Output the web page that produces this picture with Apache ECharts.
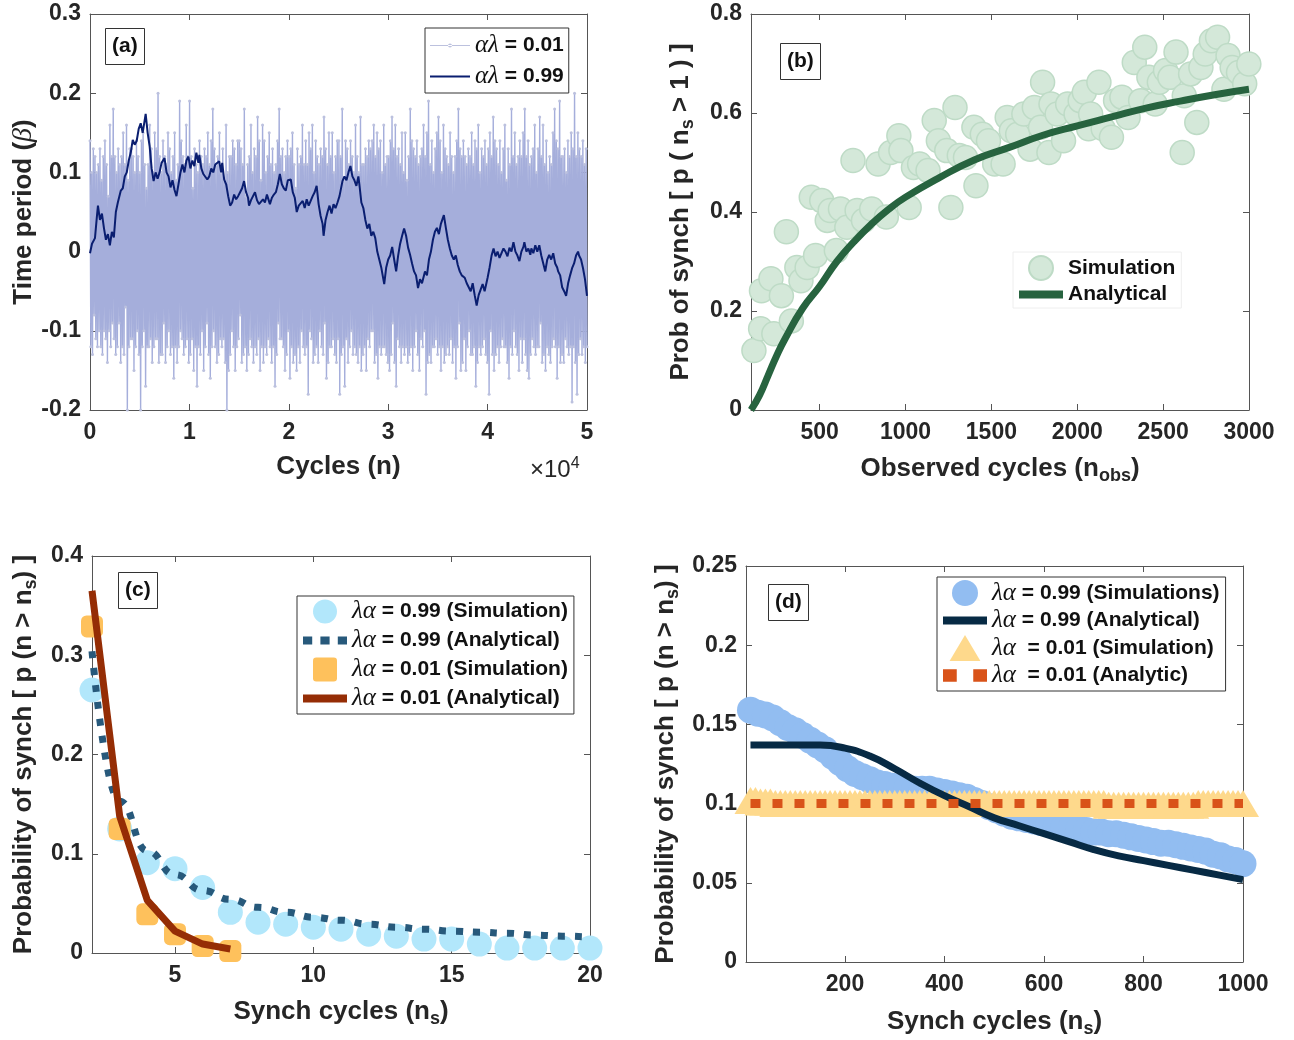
<!DOCTYPE html>
<html><head><meta charset="utf-8">
<script src="https://cdn.jsdelivr.net/npm/echarts@6/dist/echarts.min.js"></script>
<style>html,body{margin:0;padding:0;background:#fff}#c{width:1294px;height:1040px}</style>
</head><body><div id="c"></div>
<script>
// ---------- Panel (a): time period vs cycles (x in units of 1e4) ----------
const aNoiseY = [
0.14,-0.12,0.10,-0.13,0.13,-0.08,0.12,-0.11,0.10,-0.12,
0.11,-0.10,0.13,-0.12,0.09,-0.13,0.12,-0.10,0.14,-0.11,
0.11,-0.14,0.07,-0.10,0.16,-0.12,0.12,-0.09,0.18,-0.11,
0.12,-0.13,0.10,-0.12,0.13,-0.09,0.11,-0.14,0.12,-0.12,
0.15,-0.13,0.11,-0.07,0.16,-0.20,0.09,-0.12,0.13,-0.11,
0.13,-0.11,0.12,-0.15,0.10,-0.12,0.14,-0.10,0.12,-0.13,
0.10,-0.20,0.14,-0.12,0.15,-0.10,0.11,-0.17,0.08,-0.12,
0.11,-0.12,0.16,-0.11,0.13,-0.14,0.10,-0.12,0.15,-0.11,
0.13,-0.11,0.20,-0.14,0.12,-0.13,0.10,-0.13,0.14,-0.09,
0.12,-0.14,0.11,-0.12,0.15,-0.10,0.13,-0.13,0.10,-0.12,
0.12,-0.16,0.15,-0.12,0.09,-0.14,0.11,-0.12,0.19,-0.10,
0.14,-0.11,0.12,-0.13,0.11,-0.12,0.16,-0.11,0.12,-0.14,
0.19,-0.13,0.12,-0.11,0.08,-0.15,0.13,-0.12,0.11,-0.17,
0.10,-0.12,0.14,-0.13,0.12,-0.10,0.11,-0.15,0.13,-0.12,
0.12,-0.09,0.15,-0.13,0.11,-0.16,0.14,-0.12,0.18,-0.10,
0.13,-0.12,0.11,-0.14,0.12,-0.13,0.15,-0.11,0.10,-0.12,
0.13,-0.11,0.09,-0.14,0.16,-0.20,0.10,-0.15,0.12,-0.13,
0.12,-0.10,0.14,-0.12,0.13,-0.15,0.11,-0.12,0.14,-0.11,
0.14,-0.08,0.13,-0.14,0.11,-0.13,0.18,-0.12,0.07,-0.15,
0.11,-0.13,0.12,-0.11,0.16,-0.12,0.10,-0.14,0.13,-0.12,
0.12,-0.13,0.17,-0.11,0.14,-0.15,0.09,-0.12,0.16,-0.14,
0.14,-0.12,0.10,-0.13,0.12,-0.11,0.15,-0.12,0.11,-0.14,
0.13,-0.12,0.10,-0.17,0.11,-0.13,0.14,-0.09,0.18,-0.11,
0.12,-0.11,0.13,-0.12,0.10,-0.15,0.12,-0.13,0.14,-0.10,
0.12,-0.16,0.13,-0.12,0.15,-0.14,0.11,-0.13,0.08,-0.15,
0.13,-0.12,0.11,-0.14,0.12,-0.10,0.16,-0.12,0.11,-0.13,
0.14,-0.12,0.11,-0.18,0.15,-0.10,0.13,-0.11,0.16,-0.14,
0.10,-0.13,0.14,-0.12,0.12,-0.14,0.11,-0.10,0.13,-0.12,
0.12,-0.13,0.17,-0.09,0.13,-0.16,0.11,-0.14,0.15,-0.12,
0.12,-0.12,0.15,-0.11,0.10,-0.13,0.12,-0.14,0.14,-0.11,
0.14,-0.18,0.12,-0.13,0.18,-0.12,0.09,-0.17,0.14,-0.11,
0.13,-0.14,0.11,-0.12,0.14,-0.10,0.12,-0.13,0.10,-0.12,
0.16,-0.13,0.12,-0.14,0.10,-0.12,0.17,-0.15,0.11,-0.13,
0.11,-0.12,0.13,-0.15,0.12,-0.11,0.14,-0.12,0.13,-0.10,
0.14,-0.10,0.16,-0.14,0.12,-0.13,0.15,-0.16,0.13,-0.12,
0.14,-0.13,0.10,-0.12,0.16,-0.12,0.11,-0.13,0.12,-0.14,
0.12,-0.15,0.14,-0.13,0.17,-0.09,0.13,-0.14,0.16,-0.17,
0.12,-0.11,0.13,-0.12,0.11,-0.14,0.15,-0.12,0.10,-0.13,
0.15,-0.12,0.09,-0.14,0.12,-0.13,0.18,-0.12,0.14,-0.15,
0.13,-0.12,0.12,-0.10,0.14,-0.13,0.11,-0.15,0.12,-0.11,
0.13,-0.12,0.16,-0.10,0.12,-0.18,0.15,-0.14,0.19,-0.13,
0.11,-0.14,0.14,-0.12,0.10,-0.12,0.13,-0.11,0.15,-0.13,
0.17,-0.12,0.14,-0.15,0.10,-0.12,0.16,-0.14,0.13,-0.13,
0.12,-0.12,0.11,-0.13,0.15,-0.11,0.12,-0.14,0.10,-0.12,
0.12,-0.16,0.14,-0.12,0.18,-0.09,0.13,-0.15,0.12,-0.14,
0.14,-0.11,0.12,-0.15,0.11,-0.12,0.13,-0.10,0.12,-0.13,
0.15,-0.13,0.11,-0.12,0.14,-0.17,0.13,-0.14,0.16,-0.12,
0.10,-0.13,0.13,-0.12,0.12,-0.11,0.14,-0.13,0.11,-0.14,
0.13,-0.18,0.15,-0.10,0.12,-0.13,0.17,-0.15,0.14,-0.13,
0.13,-0.12,0.11,-0.14,0.14,-0.12,0.10,-0.11,0.13,-0.12,
0.16,-0.12,0.09,-0.14,0.13,-0.16,0.11,-0.12,0.18,-0.13,
0.12,-0.10,0.15,-0.12,0.11,-0.13,0.12,-0.15,0.14,-0.11,
0.12,-0.14,0.15,-0.11,0.18,-0.13,0.12,-0.15,0.14,-0.16,
0.11,-0.13,0.12,-0.11,0.13,-0.12,0.16,-0.13,0.10,-0.12,
0.13,-0.12,0.17,-0.09,0.12,-0.14,0.16,-0.13,0.11,-0.15,
0.14,-0.12,0.10,-0.13,0.12,-0.14,0.11,-0.12,0.15,-0.11,
0.18,-0.12,0.14,-0.16,0.13,-0.12,0.19,-0.14,0.12,-0.13,
0.12,-0.14,0.13,-0.11,0.10,-0.12,0.14,-0.13,0.12,-0.12,
0.15,-0.19,0.13,-0.12,0.20,-0.14,0.12,-0.18,0.15,-0.13,
0.13,-0.11,0.12,-0.13,0.14,-0.12,0.11,-0.14,0.13,-0.12
];
const aWalk = [
[0,-0.002],[0.02,0.01],[0.05,0.017],[0.07,0.045],[0.08,0.058],[0.1,0.04],[0.12,0.048],[0.14,0.03],[0.16,0.015],[0.18,0.022],
[0.2,0.008],[0.22,0.025],[0.24,0.018],[0.26,0.05],[0.28,0.062],[0.31,0.077],[0.33,0.08],[0.35,0.095],[0.37,0.1],[0.39,0.115],
[0.41,0.125],[0.43,0.141],[0.45,0.135],[0.47,0.14],[0.49,0.155],[0.51,0.162],[0.53,0.15],[0.56,0.174],[0.58,0.15],[0.6,0.133],
[0.62,0.105],[0.64,0.089],[0.66,0.1],[0.68,0.092],[0.7,0.1],[0.72,0.112],[0.75,0.118],[0.77,0.1],[0.79,0.095],[0.81,0.081],
[0.83,0.09],[0.85,0.078],[0.87,0.07],[0.89,0.085],[0.91,0.1],[0.93,0.11],[0.95,0.1],[0.97,0.115],[0.99,0.12],[1.01,0.105],
[1.03,0.115],[1.05,0.108],[1.07,0.125],[1.09,0.112],[1.1,0.122],[1.12,0.105],[1.14,0.098],[1.16,0.1],[1.18,0.091],[1.2,0.095],
[1.22,0.105],[1.24,0.1],[1.26,0.11],[1.28,0.108],[1.3,0.114],[1.32,0.1],[1.33,0.112],[1.35,0.091],[1.37,0.085],[1.39,0.07],
[1.41,0.058],[1.43,0.062],[1.45,0.072],[1.47,0.066],[1.49,0.07],[1.51,0.075],[1.53,0.08],[1.55,0.089],[1.57,0.075],[1.59,0.068],
[1.6,0.058],[1.62,0.065],[1.64,0.07],[1.66,0.075],[1.68,0.065],[1.7,0.06],[1.72,0.058],[1.74,0.066],[1.76,0.062],[1.78,0.072],
[1.79,0.07],[1.81,0.06],[1.83,0.068],[1.85,0.072],[1.87,0.075],[1.89,0.085],[1.91,0.098],[1.93,0.085],[1.95,0.08],[1.97,0.077],
[1.99,0.09],[2.02,0.091],[2.04,0.075],[2.06,0.068],[2.08,0.05],[2.1,0.058],[2.12,0.06],[2.14,0.064],[2.16,0.055],[2.18,0.066],
[2.2,0.058],[2.22,0.06],[2.24,0.07],[2.26,0.075],[2.28,0.083],[2.3,0.06],[2.32,0.045],[2.34,0.035],[2.35,0.02],[2.37,0.04],
[2.39,0.05],[2.41,0.058],[2.43,0.048],[2.45,0.06],[2.47,0.055],[2.49,0.062],[2.51,0.07],[2.54,0.089],[2.56,0.095],[2.58,0.09],
[2.6,0.1],[2.62,0.108],[2.64,0.095],[2.66,0.09],[2.68,0.083],[2.7,0.095],[2.71,0.085],[2.73,0.062],[2.75,0.055],[2.77,0.04],
[2.79,0.029],[2.81,0.035],[2.83,0.02],[2.85,0.025],[2.87,0.017],[2.89,0.0],[2.91,-0.01],[2.93,-0.02],[2.96,-0.041],[2.98,-0.02],
[3.0,-0.01],[3.02,-0.005],[3.04,0.006],[3.06,-0.01],[3.08,-0.025],[3.1,-0.005],[3.12,0.01],[3.14,0.02],[3.16,0.029],[3.18,0.02],
[3.2,0.005],[3.22,-0.004],[3.24,-0.015],[3.26,-0.025],[3.28,-0.03],[3.3,-0.046],[3.32,-0.035],[3.34,-0.04],[3.37,-0.025],[3.39,-0.03],
[3.41,-0.01],[3.43,0.0],[3.45,0.015],[3.47,0.025],[3.49,0.03],[3.51,0.022],[3.53,0.035],[3.56,0.046],[3.58,0.03],[3.6,0.015],
[3.62,0.004],[3.64,-0.005],[3.66,-0.01],[3.68,-0.005],[3.7,-0.017],[3.72,-0.025],[3.74,-0.03],[3.77,-0.033],[3.79,-0.04],[3.81,-0.045],
[3.83,-0.05],[3.85,-0.04],[3.87,-0.055],[3.89,-0.068],[3.91,-0.055],[3.93,-0.048],[3.95,-0.041],[3.97,-0.05],[4.0,-0.033],[4.02,-0.02],
[4.04,-0.005],[4.06,0.004],[4.08,-0.006],[4.1,0.0],[4.12,-0.008],[4.14,-0.002],[4.16,0.004],[4.18,0.0],[4.2,-0.006],[4.22,0.005],
[4.24,0.0],[4.26,0.012],[4.28,0.0],[4.3,-0.005],[4.32,-0.012],[4.34,0.0],[4.36,0.006],[4.37,0.012],[4.39,0.0],[4.41,0.004],
[4.43,-0.004],[4.44,0.004],[4.46,-0.002],[4.48,0.008],[4.5,0.0],[4.52,0.008],[4.54,-0.005],[4.56,-0.015],[4.58,-0.025],[4.6,-0.01],
[4.62,-0.004],[4.64,-0.01],[4.66,-0.002],[4.68,-0.015],[4.7,-0.02],[4.71,-0.025],[4.73,-0.03],[4.75,-0.045],[4.77,-0.05],[4.79,-0.056],
[4.81,-0.04],[4.83,-0.03],[4.85,-0.021],[4.87,-0.015],[4.89,-0.005],[4.91,0.0],[4.92,-0.005],[4.94,-0.01],[4.96,-0.021],[4.98,-0.035],
[5.0,-0.056]
];
const aXTicks = [0,1,2,3,4,5];

// ---------- Panel (b) ----------
const bSimX = [117,156,233,161,216,277,335,306,367,391,427,476,451,512,544,561,597,621,658,694,718,755,803,840,888,913,961,973,1021,1046,1082,1131,1167,1191,1240,1264,1288,1313,1349,1398,1410,1447,1483,1519,1568,1592,1616,1653,1689,1725,1750,1786,1798,1847,1835,1883,1920,1944,1993,2017,2041,2066,2078,2126,2151,2199,2223,2260,2296,2332,2369,2393,2417,2454,2478,2514,2539,2575,2611,2623,2660,2696,2720,2745,2781,2817,2854,2878,2902,2939,2975,2999];
const bSimY = [0.12,0.164,0.154,0.241,0.265,0.231,0.18,0.36,0.288,0.261,0.288,0.312,0.43,0.423,0.383,0.403,0.322,0.406,0.369,0.504,0.403,0.383,0.406,0.497,0.39,0.52,0.554,0.524,0.409,0.49,0.497,0.484,0.585,0.544,0.524,0.409,0.611,0.514,0.51,0.571,0.453,0.557,0.544,0.497,0.497,0.591,0.564,0.557,0.598,0.527,0.611,0.571,0.662,0.618,0.52,0.598,0.544,0.618,0.598,0.625,0.642,0.568,0.598,0.662,0.568,0.551,0.625,0.632,0.591,0.702,0.625,0.733,0.672,0.618,0.662,0.686,0.672,0.723,0.52,0.635,0.679,0.581,0.692,0.719,0.746,0.753,0.648,0.716,0.692,0.682,0.659,0.699];
const bAnX = [100,150,200,250,300,400,500,600,700,800,900,1000,1200,1400,1600,1800,2000,2200,2400,2600,2800,3000];
const bAnY = [0.0,0.03,0.07,0.11,0.145,0.205,0.25,0.30,0.34,0.375,0.405,0.43,0.47,0.505,0.53,0.555,0.574,0.592,0.61,0.624,0.637,0.648];
const bXTicks = [500,1000,1500,2000,2500,3000];

// ---------- Panel (c) ----------
const cNs = [2,3,4,5,6,7,8,9,10,11,12,13,14,15,16,17,18,19,20];
const c99Sim = [0.265,0.125,0.091,0.085,0.066,0.041,0.031,0.029,0.026,0.024,0.019,0.017,0.014,0.014,0.009,0.005,0.005,0.005,0.005];
const c99An  = [0.304,0.153,0.103,0.079,0.063,0.054,0.046,0.041,0.036,0.033,0.029,0.026,0.024,0.022,0.021,0.020,0.018,0.017,0.016];
const c01Ns  = [2,3,4,5,6,7];
const c01Sim = [0.329,0.125,0.039,0.019,0.007,0.002];
const c01An  = [0.365,0.138,0.053,0.022,0.009,0.004];
const cXTicks = [5,10,15,20];

// ---------- Panel (d) ----------
const dSimX = [10,25,40,55,70,85,100,115,130,145,160,175,190,205,220,235,250,265,280,295,310,325,340,355,370,385,400,415,430,445,460,475,490,505,520,535,550,565,580,595,610,625,640,655,670,685,700,715,730,745,760,775,790,805,820,835,850,865,880,895,910,925,940,955,970,985,1000];
const dSimY = [0.159,0.157,0.156,0.154,0.151,0.148,0.146,0.143,0.140,0.137,0.134,0.130,0.126,0.122,0.119,0.117,0.115,0.113,0.112,0.111,0.110,0.110,0.109,0.109,0.109,0.108,0.107,0.106,0.105,0.104,0.102,0.100,0.098,0.096,0.094,0.092,0.091,0.090,0.089,0.088,0.087,0.086,0.085,0.085,0.084,0.083,0.082,0.082,0.081,0.081,0.080,0.079,0.078,0.077,0.076,0.075,0.075,0.074,0.073,0.072,0.071,0.070,0.068,0.067,0.065,0.064,0.062];
const dAnX = [10,50,100,150,200,250,300,350,400,450,500,550,600,650,700,750,800,850,900,950,1000];
const dAnY = [0.137,0.137,0.137,0.137,0.135,0.130,0.122,0.113,0.105,0.098,0.091,0.086,0.081,0.076,0.071,0.067,0.064,0.061,0.058,0.055,0.052];
const dTriX = [10,20,30,40,50,60,70,80,90,100,110,120,130,140,150,160,170,180,190,200,210,220,230,240,250,260,270,280,290,300,310,320,330,340,350,360,370,380,390,400,410,420,430,440,450,460,470,480,490,500,510,520,530,540,550,560,570,580,590,600,610,620,630,640,650,660,670,680,690,700,710,720,730,740,750,760,770,780,790,800,810,820,830,840,850,860,870,880,890,900,910,920,930,940,950,960,970,980,990,1000];
const dTriY = [0.102,0.102,0.101,0.101,0.101,0.100,0.100,0.100,0.100,0.100,0.100,0.100,0.100,0.100,0.100,0.100,0.100,0.100,0.100,0.100,0.100,0.100,0.100,0.100,0.100,0.100,0.100,0.100,0.100,0.100,0.100,0.100,0.100,0.100,0.100,0.100,0.100,0.100,0.100,0.100,0.100,0.100,0.100,0.100,0.100,0.100,0.100,0.100,0.100,0.100,0.100,0.100,0.100,0.100,0.100,0.100,0.100,0.100,0.100,0.100,0.100,0.100,0.100,0.100,0.100,0.100,0.100,0.100,0.100,0.100,0.100,0.100,0.099,0.099,0.099,0.099,0.099,0.099,0.099,0.099,0.099,0.099,0.099,0.099,0.099,0.099,0.099,0.099,0.099,0.099,0.100,0.100,0.100,0.100,0.100,0.100,0.100,0.100,0.100,0.100];
const dDotX = [10,1000];
const dDotY = [0.1,0.1];
const dXTicks = [200,400,600,800,1000];

// ---------- helpers ----------
const F = "'Liberation Sans', Arial, Helvetica, sans-serif";
const AX = '#555555';
const TXT = '#262626';
const zip = (xs, ys) => xs.map((x, i) => [x, ys[i]]);
const yfmt = v => String(Math.round(v * 1000) / 1000);
const nameStyle = {
  fontSize: 26, fontWeight: 'bold', color: TXT, fontFamily: F,
  rich: {
    sub: { fontSize: 18, fontWeight: 'bold', color: TXT, fontFamily: F, padding: [15, 0, 0, 0] },
    gi: { fontSize: 28, fontStyle: 'italic', fontWeight: 'normal', color: TXT, fontFamily: "'Liberation Serif', serif" }
  }
};
function xAxes(gi, o) {
  const base = (pos) => ({
    type: 'value', gridIndex: gi, position: pos, min: o.min, max: o.max,
    interval: o.interval,
    axisLine: { show: true, onZero: false, lineStyle: { color: AX, width: 1 } },
    axisTick: { show: true, inside: true, length: 6, lineStyle: { color: AX }, customValues: o.ticks },
    axisLabel: { show: pos === 'bottom', customValues: o.ticks, color: TXT, fontSize: 23, fontWeight: 'bold', fontFamily: F, margin: 11, formatter: v => String(v) },
    splitLine: { show: false },
    name: pos === 'bottom' ? o.name : '', nameLocation: 'middle', nameGap: o.gap, nameTextStyle: nameStyle
  });
  return [base('bottom'), base('top')];
}
function yAxes(gi, o) {
  const base = (pos) => ({
    type: 'value', gridIndex: gi, position: pos, min: o.min, max: o.max, interval: o.interval,
    axisLine: { show: true, onZero: false, lineStyle: { color: AX, width: 1 } },
    axisTick: { show: true, inside: true, length: 6, lineStyle: { color: AX } },
    axisLabel: { show: pos === 'left', color: TXT, fontSize: 23, fontWeight: 'bold', fontFamily: F, margin: 9, formatter: yfmt },
    splitLine: { show: false },
    name: pos === 'left' ? o.name : '', nameLocation: 'middle', nameGap: o.gap, nameTextStyle: nameStyle
  });
  return [base('left'), base('right')];
}
const panelLabel = (t, left, top) => ({
  text: t, left, top, padding: [8, 7, 8, 7], borderColor: '#333', borderWidth: 1, backgroundColor: '#fff',
  textStyle: { fontSize: 21, fontWeight: 'bold', color: '#111', fontFamily: F }
});
const greekRich = { g: { fontFamily: "'Liberation Serif', serif", fontStyle: 'italic', fontWeight: 'normal', fontSize: 25, color: '#111' } };
const legendBase = (left, top, data, extra) => Object.assign({
  left, top, orient: 'vertical', data, selectedMode: false,
  borderColor: '#333', borderWidth: 1, backgroundColor: '#fff',
  itemWidth: 44, itemHeight: 24, itemGap: 4, padding: [3, 6, 3, 6],
  textStyle: { fontSize: 21, fontWeight: 'bold', color: '#111', fontFamily: F, rich: greekRich },
  formatter: n => { const s = n.replace(/^d:/, ''); return '{g|' + s.slice(0, 2) + '}' + s.slice(2); }
}, extra || {});

// legend icon shapes
const IC_THICK = 'path://M0,0H44V8H0Z';
const IC_DOTS = 'path://M0,0H9V8H0Z M17,0H26V8H17Z M34,0H43V8H34Z';
const IC_SQ = 'path://M3,0H19Q22,0 22,3V19Q22,22 19,22H3Q0,22 0,19V3Q0,0 3,0Z';
const IC_TRI = 'path://M16,0L32,27H0Z';
const IC_DOTS2 = 'path://M0,0H10V9H0Z M22,0H32V9H22Z';

const xs = [].concat(
  xAxes(0, { min: 0, max: 5, interval: 1, ticks: aXTicks, name: 'Cycles (n)', gap: 44 }),
  xAxes(1, { min: 100, max: 3000, ticks: bXTicks, name: 'Observed cycles (n{sub|obs})', gap: 42 }),
  xAxes(2, { min: 2, max: 20, ticks: cXTicks, name: 'Synch cycles (n{sub|s})', gap: 42 }),
  xAxes(3, { min: 1, max: 1000, ticks: dXTicks, name: 'Synch cycles (n{sub|s})', gap: 43 })
);
const ys = [].concat(
  yAxes(0, { min: -0.2, max: 0.3, interval: 0.1, name: 'Time period ({gi|β})', gap: 48 }),
  yAxes(1, { min: 0, max: 0.8, interval: 0.2, name: 'Prob of synch [ p ( n{sub|s} > 1 ) ]', gap: 54 }),
  yAxes(2, { min: 0, max: 0.4, interval: 0.1, name: 'Probability of synch [ p (n > n{sub|s}) ]', gap: 52 }),
  yAxes(3, { min: 0, max: 0.25, interval: 0.05, name: 'Probability of synch [ p (n > n{sub|s}) ]', gap: 64 })
);

const aNoise = aNoiseY.map((v, i) => [i * 5 / (aNoiseY.length - 1), v]);

const option = {
  animation: false,
  backgroundColor: '#fff',
  grid: [
    { left: 90, top: 14, width: 497, height: 396, outerBoundsMode: 'none' },
    { left: 751, top: 14, width: 498, height: 396, outerBoundsMode: 'none' },
    { left: 92, top: 556, width: 498, height: 397, outerBoundsMode: 'none' },
    { left: 746, top: 566, width: 497, height: 396, outerBoundsMode: 'none' }
  ],
  xAxis: xs,
  yAxis: ys,
  title: [
    panelLabel('(a)', 105, 28),
    panelLabel('(b)', 780, 43),
    panelLabel('(c)', 118, 572),
    panelLabel('(d)', 768, 584)
  ],
  legend: [
    legendBase(425, 28, [
      { name: 'αλ = 0.01', icon: 'path://M0,9.5H40V10.5H0Z M18,10a2,2 0 1,0 4,0a2,2 0 1,0 -4,0' },
      { name: 'αλ = 0.99', icon: 'path://M0,0H40V2H0Z' }
    ], { itemWidth: 40, itemHeight: 12, itemGap: 6, padding: [5, 5, 4, 5] }),
    legendBase(1013, 252, [
      { name: 'Simulation' },
      { name: 'Analytical', icon: IC_THICK }
    ], { borderColor: '#eeeeee', formatter: n => n, itemGap: 3 }),
    legendBase(297, 596, [
      { name: 'λα = 0.99 (Simulation)' },
      { name: 'λα = 0.99 (Analytical)', icon: IC_DOTS },
      { name: 'λα = 0.01 (Simulation)', icon: IC_SQ },
      { name: 'λα = 0.01 (Analytical)', icon: IC_THICK }
    ]),
    legendBase(937, 577, [
      { name: 'd:λα = 0.99 (Simulations)' },
      { name: 'd:λα = 0.99 (Analytical)', icon: IC_THICK },
      { name: 'd:λα  = 0.01 (Simulation)', icon: IC_TRI },
      { name: 'd:λα  = 0.01 (Analytic)', icon: IC_DOTS2 }
    ], { itemHeight: 26, itemGap: 2 })
  ],
  graphic: [{
    type: 'text', left: 530, top: 456,
    style: { text: '×10{sup|4}', fontSize: 24, fontFamily: F, fill: TXT, rich: { sup: { fontSize: 16, fontFamily: F, fill: TXT, padding: [0, 0, 13, 0] } } }
  }],
  series: [
    // (a)
    { type: 'line', name: 'αλ = 0.01', xAxisIndex: 0, yAxisIndex: 0, data: aNoise,
      symbol: 'circle', symbolSize: 3, showSymbol: true, showAllSymbol: true,
      lineStyle: { color: '#a5aedb', width: 1.4 }, itemStyle: { color: '#bcc1de' }, z: 2 },
    { type: 'line', name: 'αλ = 0.99', xAxisIndex: 0, yAxisIndex: 0, data: aWalk,
      symbol: 'none', lineStyle: { color: '#0a1e70', width: 2 }, itemStyle: { color: '#0a1e70' }, z: 3 },
    // (b)
    { type: 'scatter', name: 'Simulation', xAxisIndex: 2, yAxisIndex: 2, data: zip(bSimX, bSimY),
      symbolSize: 24, itemStyle: { color: '#d4e8d9', borderColor: '#bedbc6', borderWidth: 1.5, opacity: 1 }, z: 2 },
    { type: 'line', name: 'Analytical', xAxisIndex: 2, yAxisIndex: 2, data: zip(bAnX, bAnY), smooth: true,
      symbol: 'none', lineStyle: { color: '#27633f', width: 7 }, itemStyle: { color: '#27633f' }, z: 3 },
    // (c)
    { type: 'scatter', name: 'λα = 0.99 (Simulation)', xAxisIndex: 4, yAxisIndex: 4, data: zip(cNs, c99Sim),
      symbolSize: 25, itemStyle: { color: '#b2e7fb', opacity: 1 }, z: 2 },
    { type: 'line', name: 'λα = 0.99 (Analytical)', xAxisIndex: 4, yAxisIndex: 4, data: zip(cNs, c99An),
      smooth: true, smoothMonotone: 'x', symbol: 'none',
      lineStyle: { color: '#27597b', width: 7, type: [7, 10] }, itemStyle: { color: '#27597b' }, z: 3 },
    { type: 'scatter', name: 'λα = 0.01 (Simulation)', xAxisIndex: 4, yAxisIndex: 4, data: zip(c01Ns, c01Sim),
      symbol: 'roundRect', symbolSize: 22, itemStyle: { color: '#fec15c', opacity: 1 }, z: 4 },
    { type: 'line', name: 'λα = 0.01 (Analytical)', xAxisIndex: 4, yAxisIndex: 4, data: zip(c01Ns, c01An),
      symbol: 'none', lineStyle: { color: '#952d05', width: 7 }, itemStyle: { color: '#952d05' }, z: 5 },
    // (d)
    { type: 'scatter', name: 'd:λα = 0.99 (Simulations)', xAxisIndex: 6, yAxisIndex: 6, data: zip(dSimX, dSimY),
      symbolSize: 27, itemStyle: { color: '#92bdf1', opacity: 1 }, z: 2 },
    { type: 'scatter', name: 'd:λα  = 0.01 (Simulation)', xAxisIndex: 6, yAxisIndex: 6, data: zip(dTriX, dTriY),
      symbol: 'triangle', symbolSize: [32, 27], itemStyle: { color: '#fed98c', opacity: 1 }, z: 3 },
    { type: 'line', name: 'd:λα = 0.99 (Analytical)', xAxisIndex: 6, yAxisIndex: 6, data: zip(dAnX, dAnY),
      smooth: true, symbol: 'none', lineStyle: { color: '#072a44', width: 7 }, itemStyle: { color: '#072a44' }, z: 4 },
    { type: 'line', name: 'd:λα  = 0.01 (Analytic)', xAxisIndex: 6, yAxisIndex: 6, data: zip(dDotX, dDotY),
      symbol: 'none', lineStyle: { color: '#d95319', width: 9, type: [10, 12] }, itemStyle: { color: '#d95319' }, z: 5 }
  ]
};
const chart = echarts.init(document.getElementById('c'), null, { renderer: 'canvas' });
chart.setOption(option);
</script></body></html>
